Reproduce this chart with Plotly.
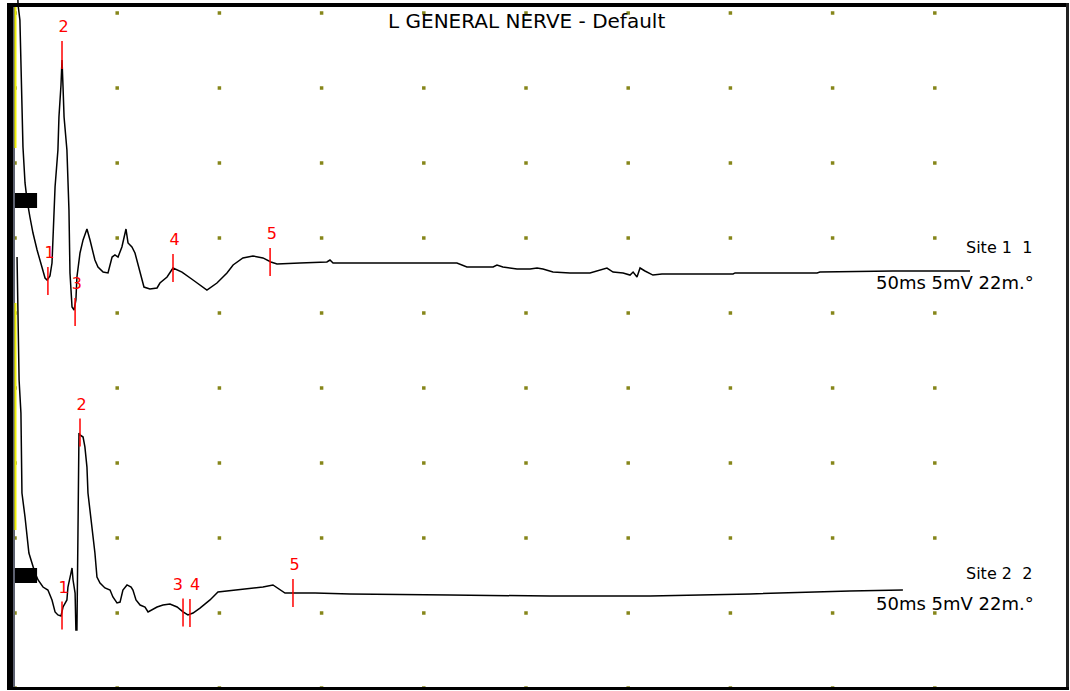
import plotly.graph_objects as go

# ---- waveform data: time (ms) and amplitude (mV, relative to the channel zero) ----
t1 = [0.10, 0.15, 0.24, 0.29, 0.34, 0.39, 0.49, 0.59, 0.73, 0.88,
      1.08, 1.27, 1.47, 1.57, 1.71, 1.81, 1.86, 1.96, 2.10, 2.15,
      2.25, 2.30, 2.35, 2.40, 2.54, 2.64, 2.69, 2.79, 2.89, 2.98,
      3.03, 3.18, 3.33, 3.52, 3.67, 3.91, 4.06, 4.31, 4.55, 4.75,
      4.89, 5.04, 5.23, 5.43, 5.53, 5.72, 5.87, 6.12, 6.31, 6.60,
      6.95, 7.09, 7.44, 7.73, 8.17, 8.71, 9.39, 9.88, 10.37, 10.67,
      11.15, 11.64, 12.13, 12.52, 12.82, 13.94, 15.26, 15.41, 15.56, 16.24,
      21.62, 22.11, 23.39, 23.58, 23.87, 24.56, 25.20, 25.54, 25.83, 26.32,
      27.15, 28.13, 28.62, 28.96, 29.26, 29.75, 30.09, 30.24, 30.43, 30.58,
      30.82, 31.21, 31.65, 35.13, 35.23, 39.24, 39.38, 42.95, 46.72]
a1 = [15.0, 13.03, 12.03, 9.37, 7.83, 3.57, 1.17, 0.03, -1.10, -2.17,
      -3.30, -4.30, -5.17, -5.30, -5.03, -4.17, -2.17, 0.90, 3.37, 5.57,
      7.70, 9.37, 7.57, 5.57, 3.37, -0.63, -4.83, -7.10, -7.30, -6.63,
      -5.10, -3.50, -2.63, -1.90, -2.63, -3.97, -4.43, -4.77, -4.83, -3.77,
      -3.63, -3.77, -3.10, -1.90, -2.83, -3.10, -3.50, -4.83, -5.77, -5.90,
      -5.83, -5.50, -5.10, -4.50, -4.77, -5.30, -5.97, -5.50, -4.83, -4.30,
      -3.83, -3.70, -3.83, -4.10, -4.23, -4.17, -4.10, -3.97, -4.17, -4.17,
      -4.17, -4.43, -4.43, -4.30, -4.43, -4.57, -4.57, -4.50, -4.57, -4.77,
      -4.83, -4.83, -4.63, -4.50, -4.77, -4.83, -4.97, -4.77, -5.10, -4.50,
      -4.70, -4.97, -4.90, -4.90, -4.83, -4.83, -4.77, -4.70, -4.70]

t2 = [0.10, 0.15, 0.20, 0.29, 0.34, 0.49, 0.59, 0.68, 0.83, 0.98,
      1.13, 1.37, 1.61, 1.81, 1.96, 2.10, 2.25, 2.35, 2.54, 2.59,
      2.74, 2.79, 2.84, 2.94, 2.98, 3.03, 3.08, 3.13, 3.18, 3.33,
      3.42, 3.52, 3.57, 3.67, 3.82, 3.91, 4.01, 4.16, 4.40, 4.65,
      4.79, 4.99, 5.14, 5.28, 5.48, 5.68, 5.77, 5.92, 6.12, 6.36,
      6.51, 6.70, 6.95, 7.24, 7.58, 7.93, 8.22, 8.46, 8.71, 9.05,
      9.54, 9.93, 10.37, 11.01, 11.50, 12.13, 12.62, 12.96, 13.21, 14.68,
      16.39, 21.28, 26.17, 31.07, 35.96, 40.85, 43.44]
a2 = [21.23, 15.70, 13.03, 10.83, 5.50, 3.90, 2.57, 1.50, 0.83, 0.17,
      -0.30, -0.77, -0.97, -1.63, -2.43, -2.63, -2.70, -2.10, -1.63, -0.77,
      0.17, 0.50, -0.30, -1.17, -3.63, -3.63, 2.83, 9.50, 9.37, 9.23,
      8.57, 7.23, 5.50, 4.37, 2.83, 1.50, -0.10, -0.50, -0.83, -0.97,
      -1.43, -1.83, -1.77, -0.97, -0.63, -0.77, -0.97, -1.63, -1.97, -2.10,
      -2.43, -2.30, -2.10, -1.97, -1.90, -2.10, -2.43, -2.63, -2.50, -2.17,
      -1.63, -1.10, -1.03, -0.97, -0.90, -0.77, -0.63, -0.97, -1.17, -1.17,
      -1.23, -1.30, -1.37, -1.37, -1.23, -1.03, -0.97]

# cursor markers (time in ms, amplitude where the cursor sits)
marker_labels = ["1", "2", "3", "4", "5"]
m1_t = [1.61, 2.30, 2.94, 7.73, 12.48]
m1_a = [-5.37, 9.70, -7.43, -4.50, -4.10]
m2_t = [2.30, 3.18, 8.22, 8.56, 13.60]
m2_a = [-2.67, 9.53, -2.47, -2.50, -1.17]

# channel zero levels on the shared display axis (mV)
offsets = [32.5, 7.5]
site_names = ["Site 1  1", "Site 2  2"]
settings_text = "50ms 5mV 22m.°"
title_text = "L GENERAL NERVE - Default"

# display geometry
W, H = 1070, 691
MS_PER_DIV, MV_PER_DIV = 5, 5
PX_PER_MS = 102.2 / MS_PER_DIV
PX_PER_MV = 75 / MV_PER_DIV
X0_PX, Y0_PX = 15, 688          # pixel location of (0 ms, 0 mV)
TICK_HALF = 0.93                # half height of a cursor tick, mV
LABEL_GAP = 1.80                # cursor number above its tick centre, mV

x_range = [-X0_PX / PX_PER_MS, (W - X0_PX) / PX_PER_MS]
y_range = [(Y0_PX - H) / PX_PER_MV, Y0_PX / PX_PER_MV]

TEXT_FONT = "DejaVu Sans"
fig = go.Figure()

# grid dots
gx, gy = [], []
for i in range(10):
    for j in range(10):
        gx.append(i * MS_PER_DIV)
        gy.append(j * MV_PER_DIV)
fig.add_trace(go.Scatter(x=gx, y=gy, mode="markers",
                         marker=dict(symbol="square", size=3.5, color="#86861a"),
                         hoverinfo="skip", showlegend=False))

# waveforms
for t, a, off in ((t1, a1, offsets[0]), (t2, a2, offsets[1])):
    fig.add_trace(go.Scatter(x=t, y=[v + off for v in a], mode="lines",
                             line=dict(color="black", width=1.5),
                             showlegend=False, hoverinfo="skip"))

# cursor ticks and numbers; closely spaced cursors get their numbers pushed apart
label_pos = [
    ["middle center"] * 5,
    ["middle center", "middle center", "middle left", "middle right", "middle center"],
]
for (mt, ma, off), pos in zip(((m1_t, m1_a, offsets[0]), (m2_t, m2_a, offsets[1])), label_pos):
    xs, ys = [], []
    for t, a in zip(mt, ma):
        xs += [t, t, None]
        ys += [a + off - TICK_HALF, a + off + TICK_HALF, None]
    fig.add_trace(go.Scatter(x=xs, y=ys, mode="lines",
                             line=dict(color="#ff0000", width=1.5),
                             showlegend=False, hoverinfo="skip"))
    fig.add_trace(go.Scatter(x=[t + (0.08 if p == "middle center" else 0.0) for t, p in zip(mt, pos)],
                             y=[a + off + LABEL_GAP for a in ma],
                             mode="text", text=marker_labels,
                             textfont=dict(family=TEXT_FONT, size=16, color="#ff0000"),
                             textposition=pos,
                             showlegend=False, hoverinfo="skip"))

shapes = []
# channel zero blocks at the left edge
for off in offsets:
    shapes.append(dict(type="rect", xref="x", yref="y",
                       x0=-0.10, x1=1.08, y0=off - 0.5, y1=off + 0.5,
                       fillcolor="black", line=dict(width=0), layer="above"))


def px(p):
    return p / W


def py(p):
    return 1 - p / H


# window frame
shapes += [
    dict(type="rect", xref="paper", yref="paper", x0=px(7), x1=px(13), y0=py(690), y1=py(3),
         fillcolor="black", line=dict(width=0), layer="above"),
    dict(type="rect", xref="paper", yref="paper", x0=px(13), x1=px(15), y0=py(688), y1=py(7),
         fillcolor="#5d6170", line=dict(width=0), layer="above"),
    dict(type="rect", xref="paper", yref="paper", x0=px(7), x1=px(1069), y0=py(7), y1=py(3),
         fillcolor="black", line=dict(width=0), layer="above"),
    dict(type="rect", xref="paper", yref="paper", x0=px(1066), x1=px(1069), y0=py(690), y1=py(3),
         fillcolor="#222222", line=dict(width=0), layer="above"),
    dict(type="rect", xref="paper", yref="paper", x0=px(7), x1=px(1069), y0=py(690), y1=py(687),
         fillcolor="black", line=dict(width=0), layer="above"),
    # highlighted stimulus segments along the left edge
    dict(type="line", xref="paper", yref="paper", x0=px(15.5), x1=px(15.5), y0=py(148), y1=py(7),
         line=dict(color="#f0f000", width=2), layer="above"),
    dict(type="line", xref="paper", yref="paper", x0=px(15.5), x1=px(15.5), y0=py(530), y1=py(303),
         line=dict(color="#f0f000", width=2), layer="above"),
]

annotations = [
    dict(text=title_text, xref="paper", yref="paper", x=px(526), y=py(21),
         xanchor="center", yanchor="middle", showarrow=False,
         font=dict(family=TEXT_FONT, size=20, color="black")),
]
site_rows_px = [(247, 282), (573, 603)]
for name, (ys, yi) in zip(site_names, site_rows_px):
    annotations.append(dict(text=name, xref="paper", yref="paper", x=px(1034), y=py(ys),
                            xanchor="right", yanchor="middle", showarrow=False,
                            font=dict(family=TEXT_FONT, size=16, color="black")))
    annotations.append(dict(text=settings_text, xref="paper", yref="paper", x=px(1036), y=py(yi),
                            xanchor="right", yanchor="middle", showarrow=False,
                            font=dict(family=TEXT_FONT, size=18, color="black")))

fig.update_layout(
    width=W, height=H, margin=dict(l=0, r=0, t=0, b=0),
    paper_bgcolor="white", plot_bgcolor="white",
    xaxis=dict(range=x_range, visible=False, fixedrange=True),
    yaxis=dict(range=y_range, visible=False, fixedrange=True),
    shapes=shapes, annotations=annotations, showlegend=False,
)

fig.write_html("out.html")
